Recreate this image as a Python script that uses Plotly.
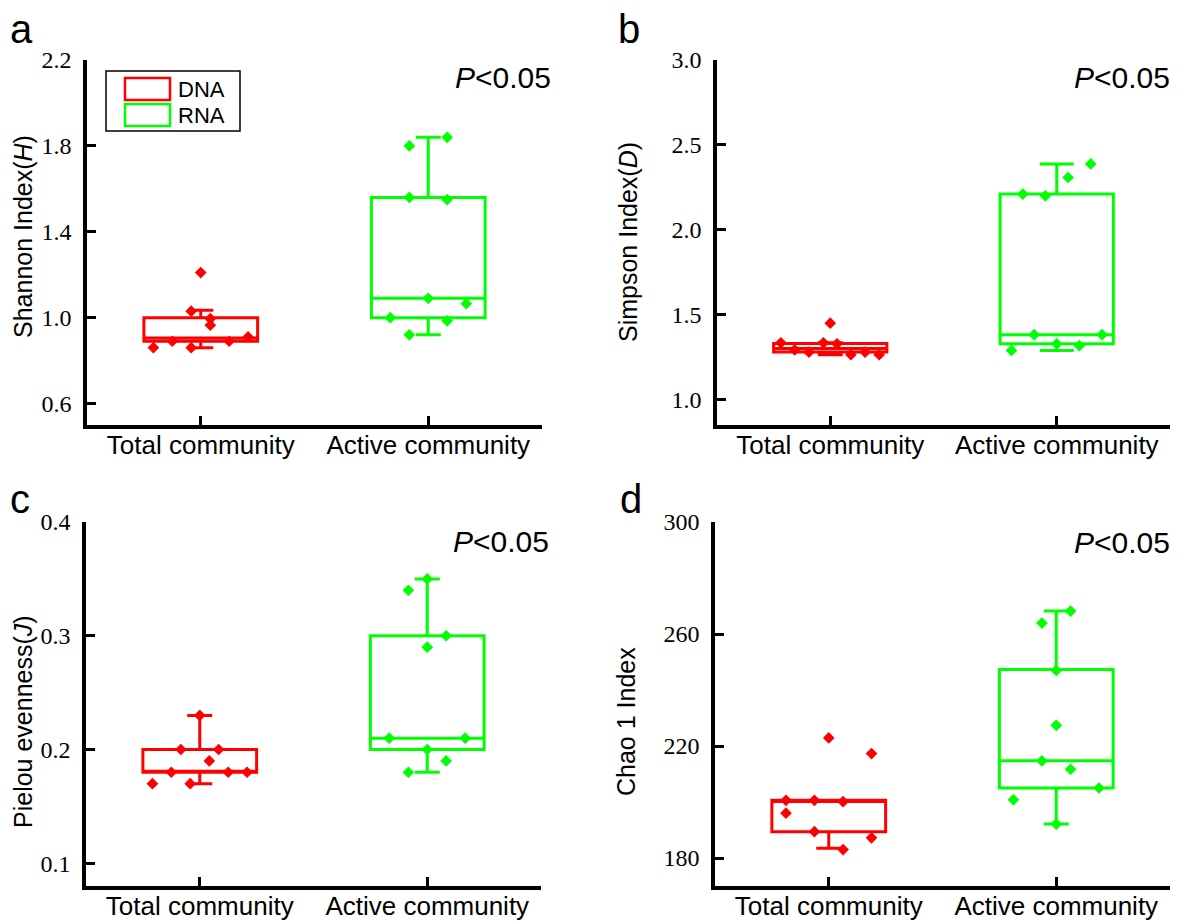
import plotly.graph_objects as go
from plotly.subplots import make_subplots

CATEGORIES = ["Total community", "Active community"]
GROUPS = ["DNA", "RNA"]

# a - Shannon index
SHANNON_DNA = [0.86, 0.89, 1.03, 0.86, 1.21, 0.995, 0.965, 0.89, 0.91]
SHANNON_RNA = [1.00, 1.80, 1.56, 0.92, 1.09, 1.84, 1.55, 0.985, 1.065]
SHANNON_DNA_BOX = [0.86, 0.89, 0.905, 1.00, 1.034]   # lower, q1, median, q3, upper
SHANNON_RNA_BOX = [0.92, 1.00, 1.09, 1.56, 1.84]

# b - Simpson index
SIMPSON_DNA = [1.334, 1.293, 1.279, 1.334, 1.45, 1.328, 1.264, 1.279, 1.264]
SIMPSON_RNA = [1.289, 2.21, 1.382, 2.20, 1.328, 2.308, 1.317, 2.388, 1.382]
SIMPSON_DNA_BOX = [1.264, 1.28, 1.30, 1.33, 1.334]
SIMPSON_RNA_BOX = [1.289, 1.328, 1.382, 2.21, 2.388]

# c - Pielou evenness
PIELOU_DNA = [0.17, 0.18, 0.20, 0.17, 0.23, 0.19, 0.20, 0.18, 0.18]
PIELOU_RNA = [0.21, 0.34, 0.18, 0.35, 0.29, 0.20, 0.30, 0.19, 0.21]
PIELOU_DNA_BOX = [0.17, 0.18, 0.18, 0.20, 0.23]
PIELOU_RNA_BOX = [0.18, 0.20, 0.21, 0.30, 0.35]

# d - Chao 1 index
CHAO_DNA = [200.6, 196.0, 200.6, 189.4, 222.9, 200.1, 183.0, 217.3, 187.2]
CHAO_RNA = [200.8, 263.9, 214.7, 247.0, 227.4, 192.1, 268.2, 211.7, 205.0]
CHAO_DNA_BOX = [183.5, 189.4, 200.2, 200.6, 200.6]
CHAO_RNA_BOX = [192.1, 205.0, 214.7, 247.3, 268.2]

# horizontal spread of the points around each category (category units)
SHANNON_DNA_JIT = [-0.208, -0.125, -0.042, -0.042, 0, 0.042, 0.042, 0.125, 0.208]
SHANNON_RNA_JIT = [-0.167, -0.083, -0.083, -0.083, 0, 0.083, 0.083, 0.083, 0.167]
SIMPSON_DNA_JIT = [-0.218, -0.157, -0.094, -0.03, 0, 0.03, 0.091, 0.154, 0.216]
SIMPSON_RNA_JIT = [-0.2, -0.15, -0.1, -0.05, 0, 0.05, 0.1, 0.15, 0.2]
PIELOU_DNA_JIT = [-0.208, -0.125, -0.083, -0.042, 0, 0.042, 0.083, 0.125, 0.208]
PIELOU_RNA_JIT = [-0.167, -0.083, -0.083, 0, 0, 0, 0.083, 0.083, 0.167]
CHAO_DNA_JIT = [-0.188, -0.188, -0.063, -0.063, 0, 0.063, 0.063, 0.188, 0.188]
CHAO_RNA_JIT = [-0.188, -0.063, -0.063, 0, 0, 0, 0.063, 0.063, 0.188]

COLORS = {"DNA": "#FF0000", "RNA": "#00FF00"}
W, H = 1181, 922
OFF = 8  # page body margin


def px(x):
    return (x - OFF) / W


def py(y):
    return 1 - (y - OFF) / H


panels = [
    dict(letter="a", row=1, col=1, title="Shannon Index(<i>H</i>)",
         dna=SHANNON_DNA, rna=SHANNON_RNA, dbox=SHANNON_DNA_BOX, rbox=SHANNON_RNA_BOX,
         djit=SHANNON_DNA_JIT, rjit=SHANNON_RNA_JIT,
         yrange=[0.5, 2.2], tick0=0.6, dtick=0.4, fmt=".1f",
         xdom=[87, 542], ydom=[425, 60], rcap=0.22,
         title_xy=(23, 237), letter_xy=(8, 29), p_xy=(553, 78)),
    dict(letter="b", row=1, col=2, title="Simpson Index(<i>D</i>)",
         dna=SIMPSON_DNA, rna=SIMPSON_RNA, dbox=SIMPSON_DNA_BOX, rbox=SIMPSON_RNA_BOX,
         djit=SIMPSON_DNA_JIT, rjit=SIMPSON_RNA_JIT,
         yrange=[0.85, 3.0], tick0=1.0, dtick=0.5, fmt=".1f",
         xdom=[717, 1170], ydom=[425, 60], rcap=0.3,
         title_xy=(628, 242), letter_xy=(616, 29), p_xy=(1172, 78)),
    dict(letter="c", row=2, col=1, title="Pielou evenness(<i>J</i>)",
         dna=PIELOU_DNA, rna=PIELOU_RNA, dbox=PIELOU_DNA_BOX, rbox=PIELOU_RNA_BOX,
         djit=PIELOU_DNA_JIT, rjit=PIELOU_RNA_JIT,
         yrange=[0.08, 0.4], tick0=0.1, dtick=0.1, fmt=".1f",
         xdom=[86, 541], ydom=[886, 522], rcap=0.22,
         title_xy=(23, 722), letter_xy=(8, 499), p_xy=(551, 541)),
    dict(letter="d", row=2, col=2, title="Chao 1 Index",
         dna=CHAO_DNA, rna=CHAO_RNA, dbox=CHAO_DNA_BOX, rbox=CHAO_RNA_BOX,
         djit=CHAO_DNA_JIT, rjit=CHAO_RNA_JIT,
         yrange=[170, 300], tick0=180, dtick=40, fmt="d",
         xdom=[715, 1170], ydom=[886, 522], rcap=0.22,
         title_xy=(626, 722), letter_xy=(618, 499), p_xy=(1172, 542)),
]

fig = make_subplots(rows=2, cols=2)

annotations = []
for p in panels:
    r, c = p["row"], p["col"]
    for gi, (grp, vals, box, jit) in enumerate([
            ("DNA", p["dna"], p["dbox"], p["djit"]),
            ("RNA", p["rna"], p["rbox"], p["rjit"])]):
        col = COLORS[grp]
        fig.add_trace(go.Box(
            x=[gi], lowerfence=[box[0]], q1=[box[1]], median=[box[2]],
            q3=[box[3]], upperfence=[box[4]],
            width=0.5, whiskerwidth=p["rcap"] if grp == "RNA" else 0.22,
            line=dict(color=col, width=3), fillcolor="rgba(0,0,0,0)",
            name=grp, showlegend=False, hoverinfo="skip"
        ), row=r, col=c)
        fig.add_trace(go.Scatter(
            x=[gi + j for j in jit], y=vals, mode="markers",
            marker=dict(symbol="diamond", size=9, color=col),
            name=grp, showlegend=False
        ), row=r, col=c)

    fig.update_xaxes(
        row=r, col=c, range=[-0.5, 1.5], domain=[px(p["xdom"][0]), px(p["xdom"][1])],
        tickvals=[0, 1], ticktext=CATEGORIES, showline=True, linecolor="black",
        linewidth=3.5, ticks="inside", ticklen=9, tickwidth=3, tickcolor="black",
        showgrid=False, zeroline=False, ticklabelstandoff=-6,
        tickfont=dict(family="Liberation Sans, Arial", size=26, color="black"))
    fig.update_yaxes(
        row=r, col=c, range=p["yrange"], domain=[py(p["ydom"][0]), py(p["ydom"][1])],
        tick0=p["tick0"], dtick=p["dtick"], tickformat=p["fmt"], showline=True,
        linecolor="black", linewidth=3.5, ticks="inside", ticklen=9, tickwidth=3,
        tickcolor="black", showgrid=False, zeroline=False, ticklabelstandoff=7,
        tickfont=dict(family="Liberation Serif, Times New Roman", size=24, color="black"))

    tx, ty = p["title_xy"]
    annotations.append(dict(
        text=p["title"], x=px(tx), y=py(ty), xref="paper", yref="paper",
        textangle=-90, showarrow=False, xanchor="center", yanchor="middle",
        font=dict(family="Liberation Sans, Arial", size=25, color="black")))
    lx, ly = p["letter_xy"]
    annotations.append(dict(
        text=p["letter"], x=px(lx), y=py(ly), xref="paper", yref="paper",
        showarrow=False, xanchor="left", yanchor="middle",
        font=dict(family="Liberation Sans, Arial", size=40, color="black")))
    qx, qy = p["p_xy"]
    annotations.append(dict(
        text="<i>P</i><0.05", x=px(qx), y=py(qy), xref="paper", yref="paper",
        showarrow=False, xanchor="right", yanchor="middle",
        font=dict(family="Liberation Sans, Arial", size=30, color="black")))

# legend box drawn in panel a
shapes = [dict(type="rect", xref="paper", yref="paper",
               x0=px(106), x1=px(240), y0=py(131), y1=py(71),
               line=dict(color="black", width=1.5))]
for i, grp in enumerate(GROUPS):
    y0, y1 = (78, 100) if i == 0 else (104, 126)
    shapes.append(dict(type="rect", xref="paper", yref="paper",
                       x0=px(125), x1=px(170), y0=py(y1), y1=py(y0),
                       line=dict(color=COLORS[grp], width=2.5)))
    annotations.append(dict(
        text=grp, x=px(176), y=py((y0 + y1) / 2), xref="paper", yref="paper",
        showarrow=False, xanchor="left", yanchor="middle",
        font=dict(family="Liberation Sans, Arial", size=22, color="black")))

fig.update_layout(
    width=W, height=H, margin=dict(l=0, r=0, t=0, b=0, autoexpand=False),
    paper_bgcolor="white", plot_bgcolor="white",
    showlegend=False, annotations=annotations, shapes=shapes,
)

fig.write_html("out.html")
